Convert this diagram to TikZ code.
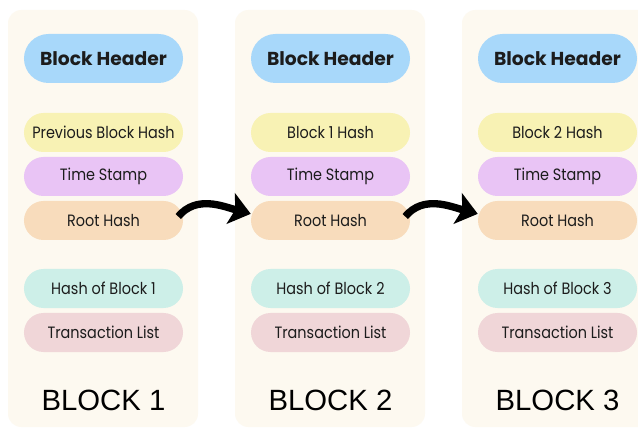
\documentclass[tikz,border=0pt]{standalone}
\usepackage{fontspec}
\usepackage{tikz}
\usetikzlibrary{arrows.meta}
\setmainfont{Poppins}[FakeStretch=0.88]
\newfontfamily\headfont{Poppins}
\newfontfamily\blockfont{Liberation Sans}

\definecolor{panelbg}{HTML}{FDF9F0}
\definecolor{headblue}{HTML}{A8D8FA}
\definecolor{prevyellow}{HTML}{F8F2B4}
\definecolor{timepurple}{HTML}{E9C4F5}
\definecolor{rootorange}{HTML}{F8DCBC}
\definecolor{hashteal}{HTML}{CDEFE8}
\definecolor{txpink}{HTML}{F0D6D8}
\definecolor{inkgray}{HTML}{1C1C1C}

\begin{document}
\begin{tikzpicture}[x=0.03cm, y=-0.03cm,
    panel/.style={fill=panelbg, rounded corners=0.4cm},
    pill/.style={minimum width=4.77cm, minimum height=1.17cm, rounded corners=0.585cm,
        inner sep=0pt, text=inkgray, font=\fontsize{14}{16}\selectfont},
    header/.style={pill, fill=headblue, minimum height=1.47cm, rounded corners=0.735cm,
        font=\headfont\fontsize{16}{18}\selectfont\bfseries},
    blocklabel/.style={text=black, font=\blockfont\fontsize{25}{28}\selectfont},
    hop/.style={line width=0.22cm, -{Stealth[length=0.62cm, width=0.95cm, inset=0.14cm]}}]
                    % Canvas and panels
                    \fill[white] (0,0) rectangle (638,428);
                    \useasboundingbox (0,0) rectangle (638,428);
                    \fill[panel] (8,10) rectangle (198,427);
                    \fill[panel] (235,10) rectangle (425,427);
                    \fill[panel] (462,10) rectangle (652,427);
                    % Block 1
                    \node[header] (head1) at (103.5,58.5) {Block Header};
                    \node[pill, fill=prevyellow] (prev1) at (103.5,132.5) {Previous Block Hash};
                    \node[pill, fill=timepurple] (time1) at (103.5,176.5) {Time Stamp};
                    \node[pill, fill=rootorange] (root1) at (103.5,220.5) {Root Hash};
                    \node[pill, fill=hashteal] (hash1) at (103.5,288.5) {Hash of Block 1};
                    \node[pill, fill=txpink] (tx1) at (103.5,332.5) {Transaction List};
                    \node[blocklabel] (label1) at (103.5,400) {BLOCK 1};
                    % Block 2
                    \node[header] (head2) at (330.5,58.5) {Block Header};
                    \node[pill, fill=prevyellow] (prev2) at (330.5,132.5) {Block 1 Hash};
                    \node[pill, fill=timepurple] (time2) at (330.5,176.5) {Time Stamp};
                    \node[pill, fill=rootorange] (root2) at (330.5,220.5) {Root Hash};
                    \node[pill, fill=hashteal] (hash2) at (330.5,288.5) {Hash of Block 2};
                    \node[pill, fill=txpink] (tx2) at (330.5,332.5) {Transaction List};
                    \node[blocklabel] (label2) at (330.5,400) {BLOCK 2};
                    % Block 3
                    \node[header] (head3) at (557.5,58.5) {Block Header};
                    \node[pill, fill=prevyellow] (prev3) at (557.5,132.5) {Block 2 Hash};
                    \node[pill, fill=timepurple] (time3) at (557.5,176.5) {Time Stamp};
                    \node[pill, fill=rootorange] (root3) at (557.5,220.5) {Root Hash};
                    \node[pill, fill=hashteal] (hash3) at (557.5,288.5) {Hash of Block 3};
                    \node[pill, fill=txpink] (tx3) at (557.5,332.5) {Transaction List};
                    \node[blocklabel] (label3) at (557.5,400) {BLOCK 3};
                    % Links
                    \draw[hop] ([xshift=-0.15cm, yshift=0.12cm]root1.east) to[out=50, in=165] ([yshift=0.2cm]root2.west);
                    \draw[hop] ([xshift=-0.15cm, yshift=0.12cm]root2.east) to[out=50, in=165] ([yshift=0.2cm]root3.west);
                \end{tikzpicture}
\end{document}
